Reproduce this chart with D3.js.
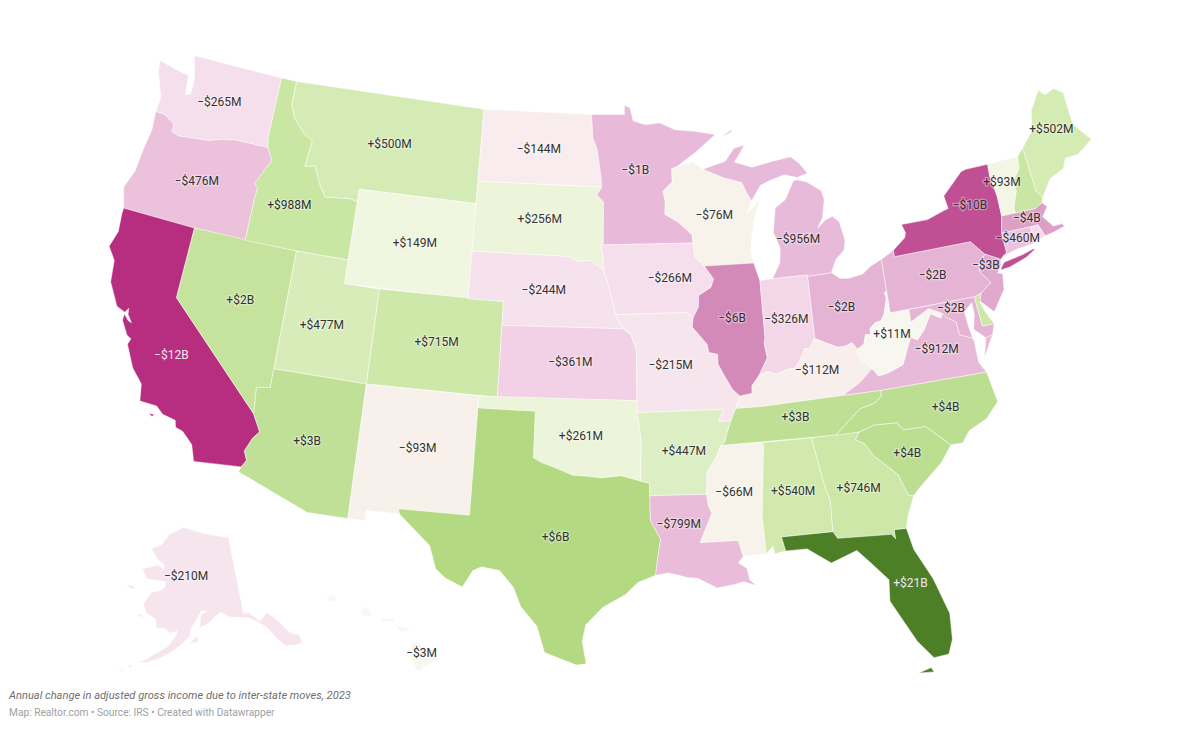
<!DOCTYPE html>
<html>
<head>
<meta charset="utf-8">
<script src="https://cdn.jsdelivr.net/npm/d3@7"></script>
<style>
  html, body { margin: 0; background: #fff; }
  text { font-family: Roboto, sans-serif; }
</style>
</head>
<body>
<svg id="map" width="1200" height="744"></svg>
<script>
// values in $M
const stateNames = ["WA","OR","CA","NV","ID","MT","WY","UT","AZ","CO","NM","ND","SD","NE","KS","OK","TX","MN","IA","MO","AR","LA","WI","IL","MI","IN","OH","KY","TN","MS","AL","GA","FL","SC","NC","VA","WV","PA","NY","VT","NH","ME","MA","CT","RI","NJ","MD","DE","AK","HI"];
const stateValues = [-265,-476,-12000,2000,988,500,149,477,3000,715,-93,-144,256,-244,-361,261,6000,-1000,-266,-215,447,-799,-76,-6000,-956,-326,-2000,-112,3400,-66,540,746,21000,4000,4000,-912,11,-2000,-10000,93,900,502,-4000,-460,-300,-3000,-2000,700,-210,-3];
const stateLabels = ["−$265M","−$476M","−$12B","+$2B","+$988M","+$500M","+$149M","+$477M","+$3B","+$715M","−$93M","−$144M","+$256M","−$244M","−$361M","+$261M","+$6B","−$1B","−$266M","−$215M","+$447M","−$799M","−$76M","−$6B","−$956M","−$326M","−$2B","−$112M","+$3B","−$66M","+$540M","+$746M","+$21B","+$4B","+$4B","−$912M","+$11M","−$2B","−$10B","+$93M","","+$502M","−$4B","−$460M","","−$3B","−$2B","","−$210M","−$3M"];

const colorDomain = [-12000,-10000,-6000,-3000,-2000,-900,-476,-340,-260,-150,-70,0,100,150,260,447,477,540,900,2000,3000,4000,6000,21000];
const colorRange = ["#b72e81","#c14f93","#d38ab8","#e0a9cd","#e5b3d4","#e8bad9","#ebc1dc","#f3d4e8","#f6e0ec","#f8ecee","#f7f2ea","#f8f7f0","#f3f5e4","#f0f6e0","#ecf4da","#dceec4","#d8ecb9","#d1e9ad","#c9e6a3","#c6e39e","#bfe096","#bcde90","#b3d982","#4d7f27"];

// label shifts from the state centroid, px
const labelNudge = {
  CA:[-4,13], NV:[2,-4], ID:[-8,11], WY:[3,-2], UT:[-5,3], CO:[0,-2], NM:[3,-4], SD:[0,-2], KS:[3,-2],
  OK:[-1,2], TX:[11,4], MN:[-5,-8], IA:[15,0], MO:[-6,-2], AR:[4,1], LA:[-15,-19], WI:[2,0], IL:[-2,-6], MI:[6,22], IN:[0,-3], OH:[-6,1],
  KY:[7,-8], TN:[-1,-2], MS:[-3,-6], AL:[0,-2], GA:[-2,-1], FL:[17,2], SC:[1,1], NC:[14,-1], VA:[7,-10], WV:[0,-5], PA:[-1,-2],
  NY:[7,-15], VT:[-3,-1], ME:[0,-10], MA:[-2,-3], CT:[0,-2], NJ:[-6,-17], MD:[-7,-8], AK:[-12,-12], HI:[15,9]
};

// state outlines, lon/lat
const seg = s => s.trim().split(/\s+/).map(p => p.split(",").map(Number));
const rev = a => a.slice().reverse();
const ring = (...parts) => [].concat(...parts);

// shared borders
const waOr = seg("-116.92,46.0 -118.98,46.0 -119.3,45.93 -119.6,45.92 -120.5,45.7 -121.2,45.65 -122.3,45.55 -122.75,45.65 -122.8,46.0 -123.2,46.15 -123.5,46.26 -124.05,46.27");
const orId = seg("-117.03,42 -117.03,43.83 -116.98,44.25 -117.22,44.4 -116.85,45.0 -116.5,45.5 -116.92,46.0");
const azCa = seg("-114.63,35.0 -114.14,34.3 -114.43,34.0 -114.72,33.4 -114.52,33.03 -114.72,32.72");
const idMt = seg("-116.05,49 -116.05,48.0 -115.7,47.45 -114.95,46.9 -114.35,46.65 -114.5,45.55 -113.9,45.65 -113.45,44.95 -113.0,44.45 -111.5,44.55 -111.05,44.48");
const okTx = seg("-94.48,33.64 -95.5,33.88 -96.5,33.78 -97.2,33.85 -97.95,33.88 -98.95,34.2 -99.6,34.38 -100,34.56");
const arOk = seg("-94.62,36.5 -94.43,35.4 -94.48,33.64");
const laTx = seg("-94.04,33.02 -94.04,31.99 -93.55,31.18 -93.7,30.5 -93.84,29.69");
const mnNd = seg("-97.23,49 -97.13,48 -96.85,47.5 -96.6,46.33 -96.56,45.93");
const mnSd = seg("-96.56,45.93 -96.85,45.6 -96.45,45.3 -96.45,43.5");
const iaSd = seg("-96.45,43.5 -96.6,43.5 -96.45,43.0 -96.44,42.49");
const neIa = seg("-96.44,42.49 -96.1,41.7 -95.85,41 -95.77,40.59");
const neMo = seg("-95.77,40.59 -95.31,40");
const ksMo = seg("-95.31,40 -94.9,39.75 -94.61,39.11 -94.62,37");
const neSd = seg("-104.05,43 -98.5,43 -97.9,42.8 -97.2,42.85 -96.7,42.6 -96.44,42.49");
const mnWi = seg("-92.02,46.71 -92.29,46.66 -92.29,46.1 -92.87,45.72 -92.75,45.3 -92.8,44.75 -92.02,44.4 -91.25,43.85 -91.22,43.5");
const iaWi = seg("-91.22,43.5 -91.15,42.9 -90.64,42.51");
const iaIl = seg("-90.64,42.51 -90.15,41.95 -90.34,41.6 -91.05,41.3 -91.1,40.82 -91.42,40.38");
const ilMo = seg("-91.42,40.38 -91.5,40 -90.73,39.25 -90.65,38.9 -90.18,38.8 -90.2,38.4 -89.9,37.9 -89.5,37.3 -89.13,37");
const moSouth = seg("-89.13,37 -89.42,36.5 -89.7,36");
const tnAr = seg("-89.7,36 -89.95,35.5 -90.1,35.12 -90.3,35");
const msAr = seg("-90.3,35 -90.6,34.5 -91.1,33.9 -91.17,33");
const msLa = seg("-91.17,33 -91.1,32.5 -90.95,32.2 -91.6,31 -89.73,31 -89.53,30.32");
const ohWv = seg("-80.52,40.64 -80.66,40.58 -80.6,40.37 -80.85,39.72 -81.1,39.45 -81.45,39.4 -81.75,39.2 -81.75,38.95 -82.05,38.97 -82.2,38.6 -82.59,38.42");
const ohKy = seg("-82.59,38.42 -82.85,38.72 -83.3,38.6 -83.68,38.63 -84.23,38.85 -84.82,39.1");
const inKy = seg("-84.82,39.1 -84.89,39.05 -85.17,38.69 -85.43,38.73 -85.75,38.27 -86.05,37.97 -86.52,37.93 -87.1,37.79 -87.55,37.93 -88.03,37.8");
const ilKy = seg("-88.03,37.8 -88.45,37.4 -88.48,37.07 -89.13,37");
const ilIn = seg("-87.53,41.72 -87.53,39.35 -87.6,39.1 -87.5,38.5 -88.03,37.8");
const kyWv = seg("-82.59,38.42 -82.6,38.1 -81.97,37.54");
const kyVa = seg("-81.97,37.54 -82.7,37.05 -83.68,36.6");
const kyTn = seg("-89.42,36.5 -88.07,36.5 -83.68,36.6");
const tnNc = seg("-81.68,36.59 -81.7,36.35 -82.1,36.1 -82.9,35.95 -83.5,35.56 -84.32,34.99");
const gaSc = seg("-83.11,35 -83.35,34.7 -82.9,34.48 -82.55,33.95 -81.9,33.4 -81.45,33 -81.1,32.1 -80.85,32.03");
const ncSc = seg("-83.11,35 -82.3,35.2 -81.05,35.15 -81.05,35.05 -80.8,34.82 -79.67,34.8 -78.55,33.86");
const vaWv = seg("-81.97,37.54 -81.68,37.2 -81.2,37.25 -80.3,37.5 -79.65,38.58 -79.3,38.42 -78.87,38.76 -78.35,39.4 -77.83,39.13 -77.72,39.32");
const mdVa = seg("-77.72,39.32 -77.5,39.1 -77.05,38.85 -77,38.3 -76.35,38.05");
const mdWv = seg("-77.72,39.32 -78.4,39.62 -79.48,39.2 -79.48,39.72");
const nyVt = seg("-73.35,45 -73.4,44.5 -73.25,43.6 -73.27,42.75");
const nhVt = seg("-71.5,45.01 -71.6,44.5 -72.05,44.1 -72.1,43.6 -72.45,43 -72.46,42.73");
const maNy = seg("-73.27,42.75 -73.5,42.05");
const njPa = seg("-74.7,41.36 -75.13,40.97 -75.2,40.68 -74.72,40.15 -75.4,39.8");

const stateShapes = {
  WA: [ring(seg("-124.73,48.38 -123.1,48.15 -122.75,48.15 -122.6,47.3 -122.3,47.4 -122.3,47.9 -122.5,48.5 -122.76,49 -117.03,49 -117.04,46.43"), waOr, seg("-124,46.9 -124.6,47.9"))],
  OR: [ring(waOr, seg("-123.95,45.5 -124.1,44.6 -124.2,43.6 -124.55,42.84 -124.2,42 -120,42"), orId)],
  CA: [ring(seg("-124.2,42 -120,42 -120,39"), azCa, seg("-117.12,32.53 -117.25,32.85 -117.4,33.2 -118,33.65 -118.4,33.75 -118.5,34.03 -119.2,34.15 -119.6,34.42 -120.5,34.45 -120.65,35.15 -121.3,35.7 -121.9,36.6 -121.8,36.85 -122.05,36.95 -122.5,37.5 -122.5,37.78 -122.2,37.55 -122,37.5 -122.3,37.8 -122.35,38.05 -122.5,37.85 -123,38 -123.7,38.9 -123.85,39.8 -124.35,40.3 -124.1,41 -124.2,41.75")),
       seg("-119.9,34.05 -119.6,34.05 -119.7,33.95")],
  NV: [seg("-120,42 -114.04,42 -114.04,36.2 -114.75,36.1 -114.63,35 -120,39")],
  ID: [ring(seg("-117.03,49"), idMt, seg("-111.05,42 -114.04,42"), orId, seg("-117.04,46.43"))],
  MT: [ring(seg("-116.05,49 -104.05,49 -104.05,45 -111.05,45"), rev(idMt))],
  WY: [seg("-111.05,45 -104.05,45 -104.05,41 -111.05,41")],
  UT: [seg("-114.04,42 -111.05,42 -111.05,41 -109.05,41 -109.05,37 -114.04,37")],
  CO: [seg("-109.05,41 -102.05,41 -102.05,37 -109.05,37")],
  AZ: [ring(seg("-114.04,37 -109.05,37 -109.05,31.33 -111.07,31.33 -114.81,32.5"), rev(azCa), seg("-114.75,36.1 -114.04,36.2"))],
  NM: [seg("-109.05,37 -103,37 -103.04,36.5 -103.06,32 -106.62,32 -106.53,31.78 -108.2,31.78 -108.2,31.33 -109.05,31.33")],
  TX: [ring(seg("-103.04,36.5 -100,36.5"), rev(okTx), seg("-94.04,33.55"), laTx, seg("-94.7,29.4 -95.3,28.9 -96.4,28.35 -97.2,27.6 -97.35,26.9 -97.15,25.96 -97.6,25.9 -99.1,26.4 -99.5,27.5 -100.3,28.3 -100.7,29.1 -101.4,29.77 -102.3,29.88 -102.7,29.7 -103.15,28.98 -104,29.3 -104.5,29.65 -104.9,30.6 -106,31.4 -106.53,31.78 -106.62,32 -103.06,32"))],
  OK: [ring(seg("-103,37 -94.62,37"), arOk, okTx, seg("-100,36.5 -103.04,36.5"))],
  KS: [ring(seg("-102.05,40"), ksMo, seg("-102.05,37"))],
  NE: [ring(neSd, neIa, neMo, seg("-102.05,40 -102.05,41 -104.05,41"))],
  SD: [ring(seg("-104.05,45.94"), mnSd, iaSd, rev(neSd))],
  ND: [ring(seg("-104.05,49"), mnNd, seg("-104.05,45.94"))],
  MN: [ring(seg("-97.23,49 -95.15,49 -95.15,49.38 -94.8,49.3 -94.6,48.72 -93.8,48.55 -92.95,48.62 -92,48.3 -90.8,48.2 -89.5,48 -90.8,47.3"), mnWi, rev(mnSd), rev(mnNd))],
  IA: [ring(iaWi, iaIl, seg("-91.73,40.61"), rev(neIa), rev(iaSd))],
  MO: [ring(neMo.slice(0,1), seg("-91.73,40.61"), ilMo, moSouth, seg("-90.37,36 -90.07,36.5 -94.62,36.5"), rev(ksMo))],
  AR: [ring(seg("-94.62,36.5 -90.07,36.5 -90.37,36"), tnAr, msAr, seg("-94.04,33.02 -94.04,33.55"), rev(arOk))],
  LA: [ring(seg("-94.04,33.02"), msLa, seg("-89.8,30.05 -89.4,29.8 -89.3,29.3 -89,29.05 -89.6,29.25 -90.1,29.15 -90.9,29.05 -91.8,29.5 -92.3,29.55 -93.2,29.77"), rev(laTx))],
  WI: [ring(seg("-92.02,46.71 -91,46.9 -90.4,46.57 -89.1,46.13 -88.1,45.9 -87.8,45.35 -87.6,45.1 -87.95,44.6 -87.4,44.9 -87.05,45.25 -87.55,44.3 -87.8,43.5 -87.9,43 -87.8,42.49"), rev(iaWi), rev(mnWi))],
  IL: [ring(seg("-90.64,42.51 -87.8,42.49"), ilIn, ilKy, rev(ilMo), rev(iaIl))],
  IN: [ring(seg("-87.53,41.72 -87.2,41.76 -86.82,41.76 -84.81,41.76"), inKy, rev(ilIn))],
  MI: [seg("-86.82,41.76 -86.3,42.4 -86.2,43 -86.5,43.7 -86.25,44.7 -85.6,45 -85,45.75 -84.75,45.78 -84.2,45.63 -83.4,45.2 -83.3,44.8 -83.55,44.05 -83.9,43.65 -83.4,43.95 -82.95,44.07 -82.6,43.8 -82.42,43 -82.55,42.6 -83.1,42.25 -83.45,41.73 -84.81,41.7 -84.81,41.76"),
       seg("-90.4,46.57 -89,46.85 -88.4,47.37 -87.75,47.47 -88.2,47 -88.45,46.78 -87.4,46.5 -86.1,46.67 -85,46.77 -84.5,46.45 -84.1,46 -84.75,45.87 -85.5,46.05 -86.5,45.85 -87,45.7 -87.6,45.1 -87.8,45.35 -88.1,45.9 -89.1,46.13"),
       seg("-89.2,47.85 -88.45,48.17 -88.5,48.05")],
  OH: [ring(seg("-84.81,41.7 -83.45,41.73 -83,41.45 -82.5,41.4 -81.7,41.5 -81.2,41.77 -80.52,41.98"), ohWv, ohKy)],
  KY: [ring(kyTn.slice(0,1), seg("-89.13,37"), rev(ilKy), rev(inKy), rev(ohKy), kyWv, kyVa, rev(kyTn))],
  TN: [ring(seg("-89.7,36 -89.42,36.5"), kyTn, tnNc, seg("-90.3,35"), rev(tnAr))],
  MS: [ring(seg("-90.3,35 -88.2,35 -88.1,34.9 -88.47,31.9 -88.4,30.35"), rev(msLa), rev(msAr))],
  AL: [seg("-88.2,35 -85.6,35 -85.18,32.87 -85,32.3 -85.05,31 -87.6,31 -87.45,30.4 -88,30.32 -88.05,30.65 -88.4,30.35 -88.47,31.9 -88.1,34.9")],
  GA: [ring(seg("-85.6,35"), gaSc, seg("-81.3,31.2 -81.45,30.72 -82.05,30.75 -82.05,30.36 -82.21,30.57 -84.86,30.7 -85.05,31 -85,32.3 -85.18,32.87"))],
  FL: [seg("-87.6,31 -85.05,31 -84.86,30.7 -82.21,30.57 -82.05,30.36 -82.05,30.75 -81.45,30.72 -81.25,29.8 -80.55,28.45 -80.05,26.9 -80.13,25.8 -80.4,25.2 -81.1,25.15 -81.75,25.95 -82.15,26.7 -82.75,27.8 -82.65,28.7 -83.4,29.5 -84,30.1 -85.3,29.7 -86.4,30.4 -87.45,30.4"),
       seg("-81.9,24.6 -81.2,24.55 -81.3,24.75")],
  SC: [ring(ncSc, seg("-79.2,33.2 -80.45,32.35"), rev(gaSc))],
  NC: [ring(rev(tnNc), seg("-76,36.55 -75.75,35.25 -76.5,34.65 -77.5,34.3 -77.95,33.85"), rev(ncSc))],
  VA: [ring(rev(kyVa), vaWv, mdVa, seg("-76.3,37.9 -76.3,37.6 -76.3,37 -76,36.55 -81.68,36.59")),
       seg("-75.95,37.15 -75.6,37.6 -75.25,38.03 -75.65,37.95")],
  WV: [ring(seg("-80.52,40.64 -80.52,39.72"), rev(mdWv), rev(vaWv), rev(kyWv), rev(ohWv))],
  MD: [ring(seg("-79.48,39.72 -75.79,39.72 -75.7,38.46 -75.05,38.45 -75.25,38.03 -75.65,37.95 -76.2,38.4 -76,39 -76,39.5 -76.5,39.2 -76.45,38.6"), rev(mdVa), mdWv)],
  DE: [seg("-75.79,39.72 -75.4,39.8 -75.55,39.45 -75.4,39.05 -75.05,38.45 -75.7,38.46")],
  PA: [ring(seg("-80.52,41.98 -79.76,42.27 -79.76,42 -75.35,42"), njPa, seg("-75.79,39.72 -80.52,39.72"))],
  NJ: [ring(seg("-73.9,41 -74,40.7 -74.25,40.48 -73.98,40.4 -74.1,39.75 -74.9,38.93 -75.55,39.5"), rev(njPa))],
  NY: [ring(seg("-79.76,42.27 -79,42.7 -78.9,42.9 -79.05,43.27 -77.5,43.27 -76.5,43.5 -76.2,43.55 -76.3,44.1 -75,44.95 -74.7,45"), nyVt, maNy, seg("-73.49,41.21 -73.73,41.1 -73.9,41 -74.7,41.36 -75.35,42 -79.76,42")),
       seg("-74.03,40.6 -73.75,40.85 -72.6,40.98 -72,41.1 -71.87,41.07 -72.5,40.82 -73.5,40.6 -73.95,40.57")],
  VT: [ring(nyVt, rev(nhVt))],
  NH: [ring(seg("-71.08,45.3 -70.98,43.4 -70.7,43.07 -70.82,42.87 -71.3,42.7"), rev(nhVt))],
  ME: [seg("-71.08,45.3 -70.4,45.8 -70.25,45.95 -70,46.7 -69.23,47.46 -68.9,47.2 -68.3,47.35 -67.8,47.07 -67.8,45.7 -67.45,45.3 -67,44.85 -68,44.4 -68.8,44.4 -69.1,44 -70,43.75 -70.7,43.07 -70.98,43.4")],
  MA: [seg("-73.5,42.05 -73.27,42.75 -72.46,42.73 -71.3,42.7 -70.82,42.87 -70.6,42.65 -71,42.3 -70.55,41.8 -70,41.8 -70.2,42.07 -69.95,41.67 -70.65,41.55 -71.15,41.5 -71.38,42.02 -71.8,42.02")],
  CT: [seg("-73.5,42.05 -71.8,42.02 -71.85,41.32 -72.9,41.25 -73.73,41.1 -73.49,41.21")],
  RI: [seg("-71.8,42.02 -71.38,42.02 -71.15,41.5 -71.85,41.32")],
  AK: [seg("-141,69.65 -141,60.3 -139.7,60.3 -137.5,59 -135.5,59.8 -133.5,58.4 -131.8,56.6 -130,56 -130.1,55 -131.5,55 -133.5,55.3 -134.8,56.3 -136.3,58 -138,58.9 -139.7,59.6 -142.5,60 -144.5,60.2 -146.5,60.9 -148.3,60.3 -149.7,59.7 -151.8,59.2 -151.5,60.7 -150,61.2 -151.3,61.2 -152.6,60.2 -153.9,59.1 -154.2,58.2 -156.5,57 -158.5,56.1 -160.5,55.4 -163.2,54.7 -164.9,54.6 -163.3,55.1 -161.5,55.9 -159,56.9 -157.5,58.1 -157,58.8 -158.8,58.5 -160,59 -162,59 -162.5,60 -165,60.6 -166,61.6 -165,62.6 -164.5,63.1 -162,63.5 -161,64 -161,64.6 -163,64.6 -166.3,64.6 -168.1,65.65 -164,66.5 -162,66.1 -161.9,66.6 -163.8,67 -166.7,68.3 -163.5,69 -161.5,70.3 -156.6,71.35 -152,70.85 -148,70.4 -144,70"),
       seg("-154.5,57.4 -152.3,57.5 -152.4,58.3 -153.8,57.6"),
       seg("-167,60.2 -165.7,60.3 -165.7,59.9"),
       seg("-171.5,63.5 -168.8,63.3 -170,63"),
       seg("-166.9,53.9 -165.9,54.2 -166.3,53.7"),
       seg("-168.9,53.1 -167.6,53.5 -167.9,53.2")],
  HI: [seg("-155.9,20.25 -155.1,19.9 -154.8,19.5 -155.7,18.95 -156.05,19.7"),
       seg("-156.7,20.95 -156,20.75 -156.4,20.6"),
       seg("-157.3,21.2 -156.75,21.18 -156.75,21.05 -157.3,21.08"),
       seg("-158.25,21.55 -157.95,21.7 -157.65,21.3 -158.1,21.3"),
       seg("-159.8,22.05 -159.4,22.2 -159.3,21.95 -159.6,21.9")]
};

const features = stateNames.map((name, i) => ({
  type: "Feature",
  properties: { name, value: stateValues[i], label: stateLabels[i] },
  geometry: {
    type: "MultiPolygon",
    coordinates: stateShapes[name].map(r => {
      const closed = r.concat([r[0]]);
      // d3 wants clockwise rings, flip the ones that came out covering the globe
      const big = d3.geoArea({ type: "Polygon", coordinates: [closed] }) > 2 * Math.PI;
      return [big ? closed.reverse() : closed];
    })
  }
}));

const svg = d3.select("#map");
const projection = d3.geoAlbersUsa().scale(1362).translate([600, 360]);
const path = d3.geoPath(projection);
const color = d3.scaleLinear().domain(colorDomain).range(colorRange);

svg.append("g")
  .selectAll("path")
  .data(features)
  .enter()
  .append("path")
  .attr("d", path)
  .attr("fill", d => color(d.properties.value))
  .attr("stroke", "#fff")
  .attr("stroke-opacity", 0.6)
  .attr("stroke-width", 0.8);

// light text only on the two darkest states, the rest get a soft halo
const isDark = d => Math.abs(d.properties.value) >= 12000;

svg.append("g")
  .selectAll("text")
  .data(features.filter(d => d.properties.label))
  .enter()
  .append("text")
  .attr("transform", d => {
    const c = path.centroid(d);
    const n = labelNudge[d.properties.name] || [0, 0];
    return `translate(${c[0] + n[0]},${c[1] + n[1]})`;
  })
  .attr("text-anchor", "middle")
  .attr("dy", "0.35em")
  .attr("font-size", 12)
  .attr("fill", d => isDark(d) ? "#f3e6ee" : "#333")
  .attr("stroke", d => isDark(d) ? "none" : "rgba(255,255,255,0.35)")
  .attr("stroke-width", 2.5)
  .style("paint-order", "stroke")
  .text(d => d.properties.label);

svg.append("text")
  .attr("x", 9).attr("y", 699)
  .attr("font-size", 11.1).attr("font-style", "italic").attr("fill", "#6f6f6f")
  .text("Annual change in adjusted gross income due to inter-state moves, 2023");
svg.append("text")
  .attr("x", 9).attr("y", 716)
  .attr("font-size", 10.2).attr("fill", "#a0a0a0")
  .text("Map: Realtor.com • Source: IRS • Created with Datawrapper");
</script>
</body>
</html>
